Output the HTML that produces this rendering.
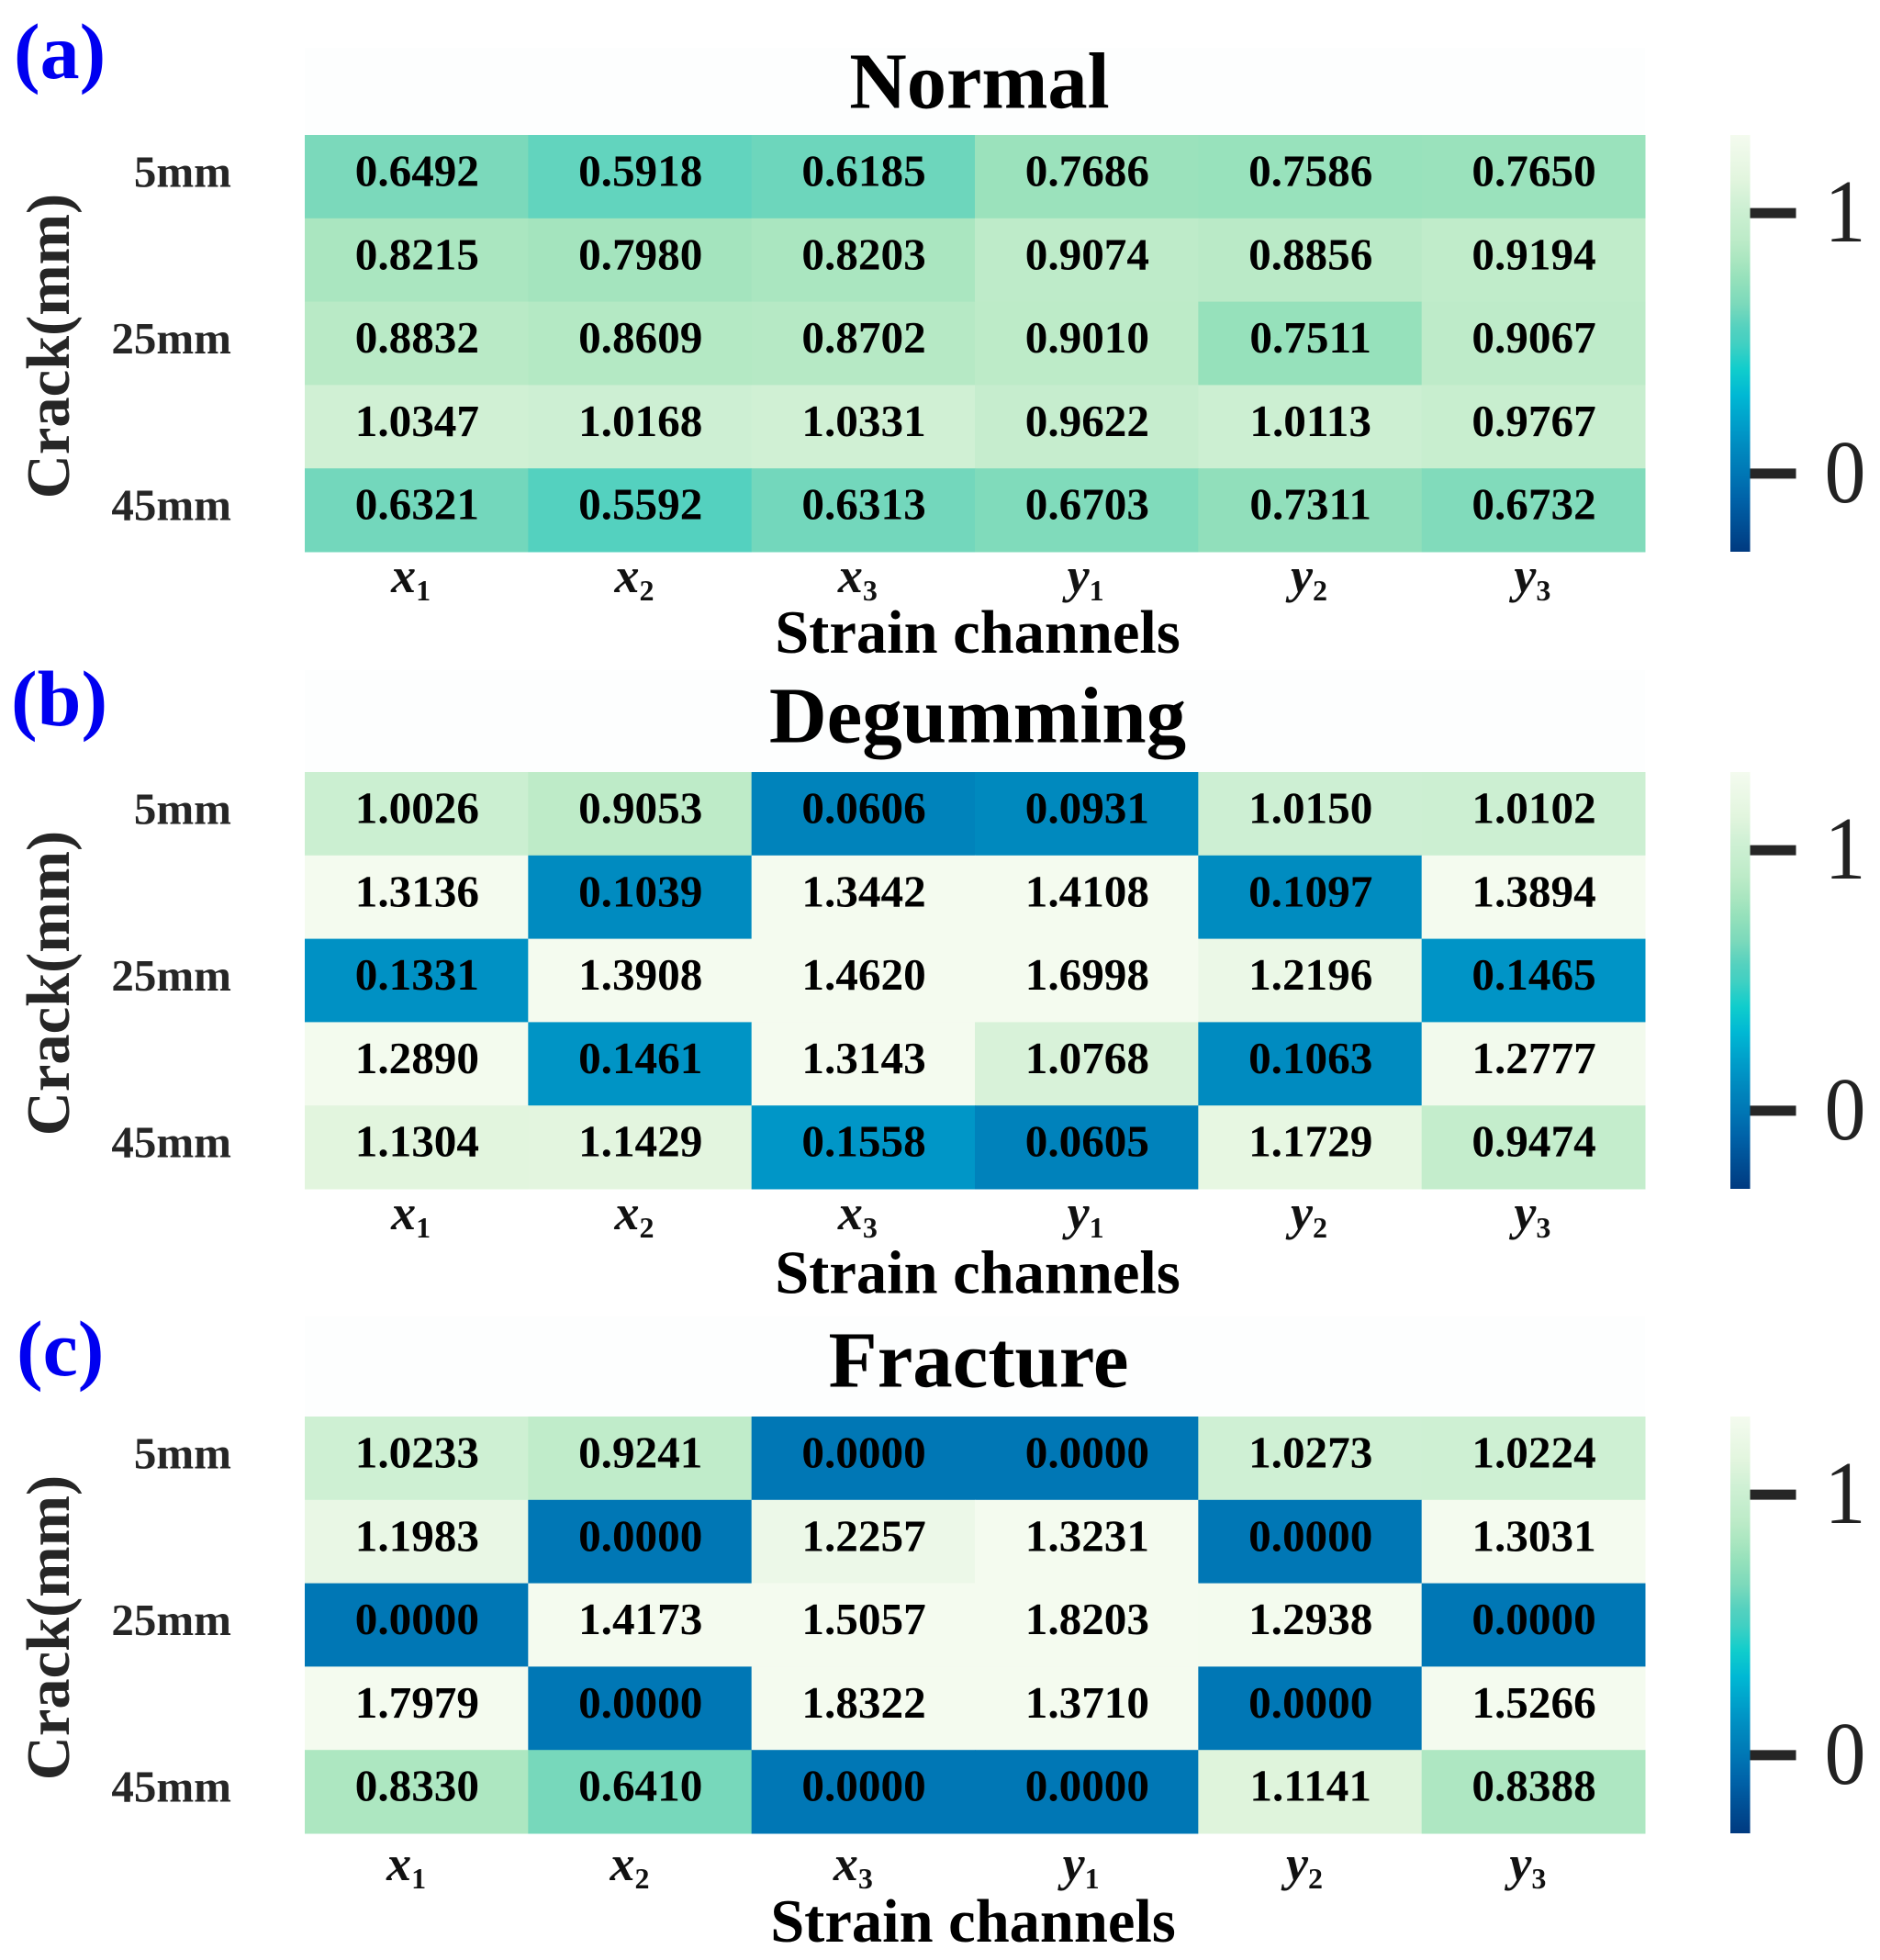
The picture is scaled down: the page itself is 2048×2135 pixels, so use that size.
<!DOCTYPE html>
<html>
<head>
<meta charset="utf-8">
<title>Crack strain heatmaps</title>
<style>
html,body{margin:0;padding:0;background:#fff;}
svg{display:block;}
text{font-family:"Liberation Serif",serif;}
</style>
</head>
<body>
<svg id="chart" xmlns="http://www.w3.org/2000/svg" width="2048" height="2135" viewBox="0 0 2048 2135">
  <defs>
    <linearGradient id="cbar-gradient" x1="0" y1="1" x2="0" y2="0"></linearGradient>
  </defs>
  <rect x="0" y="0" width="2048" height="2135" fill="#ffffff"/>
</svg>
<script>
var rowLabels = ["5mm", "", "25mm", "", "45mm"];
var channelBase = ["x", "x", "x", "y", "y", "y"];
var channelSub = ["1", "2", "3", "1", "2", "3"];
var colorbarTicks = [0, 1];
var normalValues = [
  [0.6492, 0.5918, 0.6185, 0.7686, 0.7586, 0.7650],
  [0.8215, 0.7980, 0.8203, 0.9074, 0.8856, 0.9194],
  [0.8832, 0.8609, 0.8702, 0.9010, 0.7511, 0.9067],
  [1.0347, 1.0168, 1.0331, 0.9622, 1.0113, 0.9767],
  [0.6321, 0.5592, 0.6313, 0.6703, 0.7311, 0.6732]
];
var degummingValues = [
  [1.0026, 0.9053, 0.0606, 0.0931, 1.0150, 1.0102],
  [1.3136, 0.1039, 1.3442, 1.4108, 0.1097, 1.3894],
  [0.1331, 1.3908, 1.4620, 1.6998, 1.2196, 0.1465],
  [1.2890, 0.1461, 1.3143, 1.0768, 0.1063, 1.2777],
  [1.1304, 1.1429, 0.1558, 0.0605, 1.1729, 0.9474]
];
var fractureValues = [
  [1.0233, 0.9241, 0.0000, 0.0000, 1.0273, 1.0224],
  [1.1983, 0.0000, 1.2257, 1.3231, 0.0000, 1.3031],
  [0.0000, 1.4173, 1.5057, 1.8203, 1.2938, 0.0000],
  [1.7979, 0.0000, 1.8322, 1.3710, 0.0000, 1.5266],
  [0.8330, 0.6410, 0.0000, 0.0000, 1.1141, 0.8388]
];
var vMin = -0.3;
var vMax = 1.3;
var colorStops = [
  [-0.30, "#003a80"], [-0.10, "#0062a8"], [0.00, "#0077b5"], [0.10, "#008abf"],
  [0.15, "#0095c6"], [0.30, "#00b8d4"], [0.40, "#10cdcc"], [0.50, "#42d0c2"],
  [0.56, "#54d1bf"], [0.65, "#7bd9bb"], [0.75, "#96e1bb"], [0.82, "#aae6c0"],
  [0.90, "#bdebc8"], [1.03, "#cff0d4"], [1.13, "#e2f5de"], [1.30, "#f4fbef"]
];

var SVG_NS = "http://www.w3.org/2000/svg";
var svg = document.getElementById("chart");

function hexToRgb(h) {
  return [parseInt(h.substr(1, 2), 16), parseInt(h.substr(3, 2), 16), parseInt(h.substr(5, 2), 16)];
}
function colorFor(v) {
  var c = Math.max(vMin, Math.min(vMax, v));
  for (var i = 1; i < colorStops.length; i++) {
    if (c <= colorStops[i][0]) {
      var a = colorStops[i - 1];
      var b = colorStops[i];
      var t = (c - a[0]) / (b[0] - a[0]);
      var ca = hexToRgb(a[1]);
      var cb = hexToRgb(b[1]);
      return "rgb(" + Math.round(ca[0] + (cb[0] - ca[0]) * t) + "," +
        Math.round(ca[1] + (cb[1] - ca[1]) * t) + "," +
        Math.round(ca[2] + (cb[2] - ca[2]) * t) + ")";
    }
  }
  return colorStops[colorStops.length - 1][1];
}
function make(tag, attrs, parent) {
  var n = document.createElementNS(SVG_NS, tag);
  for (var k in attrs) { n.setAttribute(k, attrs[k]); }
  (parent || svg).appendChild(n);
  return n;
}

var grad = document.getElementById("cbar-gradient");
colorStops.forEach(function (s) {
  make("stop", {offset: (s[0] - vMin) / (vMax - vMin), "stop-color": s[1]}, grad);
});

var HEAT_LEFT = 332, HEAT_RIGHT = 1792, HEAT_H = 454;
var CBAR_LEFT = 1885, CBAR_W = 21.5, TICK_LEN = 50;

function drawPanel(cfg) {
  var key = cfg.key;
  var values = cfg.values;
  var top = cfg.top;
  var nRows = values.length;
  var nCols = values[0].length;
  var xScale = function (i) { return HEAT_LEFT + (HEAT_RIGHT - HEAT_LEFT) * i / nCols; };
  var yScale = function (j) { return top + HEAT_H * j / nRows; };
  var cbarY = function (v) { return top + HEAT_H * (vMax - v) / (vMax - vMin); };

  var g = make("g", {});
  
  

  var band = make("rect", {x: HEAT_LEFT, y: cfg.bandTop, width: HEAT_RIGHT - HEAT_LEFT, height: top - cfg.bandTop, fill: "#fdfefe"}, g);
  
  

  var letter = make("text", {x: cfg.letterX, y: cfg.letterY, "font-size": 86, "font-weight": "bold", fill: "#0000f0"}, g);
  letter.textContent = cfg.letter;
  
  

  var title = make("text", {x: cfg.titleX, y: cfg.titleY, "font-size": cfg.titleSize, "font-weight": "bold", "text-anchor": "middle", fill: "#000"}, g);
  title.textContent = cfg.title;
  
  

  var yTitleY = top + 230;
  var yTitle = make("text", {x: 75, y: yTitleY, "font-size": 66.5, "font-weight": "bold", "text-anchor": "middle", fill: "#262626", transform: "rotate(-90 75 " + yTitleY + ")"}, g);
  yTitle.textContent = "Crack(mm)";
  
  

  for (var r = 0; r < nRows; r++) {
    if (rowLabels[r]) {
      var yl = make("text", {x: 252, y: yScale(r) + 56.5, "font-size": 49, "font-weight": "bold", "text-anchor": "end", fill: "#262626"}, g);
      yl.textContent = rowLabels[r];
      
      
    }
    for (var c = 0; c < nCols; c++) {
      var v = values[r][c];
      var cell = make("rect", {x: xScale(c), y: yScale(r), width: xScale(c + 1) - xScale(c) + 0.5, height: yScale(r + 1) - yScale(r) + 0.5, fill: colorFor(v)}, g);
      
      
    }
  }
  for (var r2 = 0; r2 < nRows; r2++) {
    for (var c2 = 0; c2 < nCols; c2++) {
      var t = make("text", {x: (xScale(c2) + xScale(c2 + 1)) / 2 + 0.7, y: yScale(r2) + 55.5, "font-size": 49.2, "font-weight": "bold", "text-anchor": "middle", fill: "#000"}, g);
      t.textContent = values[r2][c2].toFixed(4);
      
      
    }
  }
  for (var i = 0; i < nCols; i++) {
    var shift = cfg.xTickShift + (channelBase[i] === "y" ? 5 : 0);
    var xt = make("text", {x: (xScale(i) + xScale(i + 1)) / 2 + shift, y: cfg.xTickY, "font-weight": "bold", "text-anchor": "middle", fill: "#111"}, g);
    
    
    var base = make("tspan", {"font-size": 54, "font-style": "italic"}, xt);
    base.textContent = channelBase[i];
    var sub = make("tspan", {"font-size": 32, dy: 9}, xt);
    sub.textContent = channelSub[i];
  }

  var xTitle = make("text", {x: cfg.xTitleX, y: cfg.xTitleY, "font-size": 66.5, "font-weight": "bold", "text-anchor": "middle", fill: "#000"}, g);
  xTitle.textContent = "Strain channels";
  
  

  var bar = make("rect", {x: CBAR_LEFT, y: top, width: CBAR_W, height: HEAT_H, fill: "url(#cbar-gradient)"}, g);
  
  

  colorbarTicks.forEach(function (tv) {
    var ty = cbarY(tv);
    var tick = make("rect", {x: CBAR_LEFT + CBAR_W, y: ty - 5.5, width: TICK_LEN, height: 11, fill: "#262626"}, g);
    
    
    var lab = make("text", {"font-size": 90, "text-anchor": "middle", fill: "#222222", transform: "translate(2010 " + (ty + 31) + ") scale(1 1.08)"}, g);
    lab.textContent = String(tv);
    
    
  });
}

drawPanel({key: "normal", title: "Normal", letter: "(a)", values: normalValues, top: 147, bandTop: 52,
  letterX: 15, letterY: 85, titleX: 1067, titleY: 117.5, titleSize: 86.5, xTickY: 645, xTickShift: -6, xTitleX: 1065, xTitleY: 711});
drawPanel({key: "degumming", title: "Degumming", letter: "(b)", values: degummingValues, top: 841, bandTop: 730,
  letterX: 12, letterY: 790, titleX: 1065, titleY: 808.5, titleSize: 87, xTickY: 1339, xTickShift: -6, xTitleX: 1065, xTitleY: 1408.5});
drawPanel({key: "fracture", title: "Fracture", letter: "(c)", values: fractureValues, top: 1543, bandTop: 1434,
  letterX: 18, letterY: 1498, titleX: 1066, titleY: 1510.5, titleSize: 87, xTickY: 2048, xTickShift: -11, xTitleX: 1060, xTitleY: 2115});
</script>
</body>
</html>
